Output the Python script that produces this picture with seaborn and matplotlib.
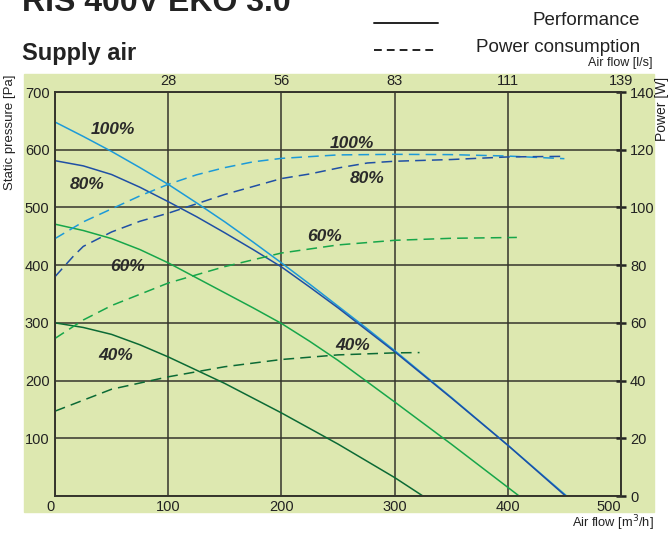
import seaborn as sns
import matplotlib.pyplot as plt
import pandas as pd
from matplotlib.patches import Rectangle
from matplotlib.lines import Line2D

sns.set_style("white")
plt.rcParams["font.family"] = ["Liberation Sans", "DejaVu Sans"]

# performance curves: static pressure [Pa] over air flow [m3/h]
flow_100 = [0, 25, 50, 75, 100, 125, 150, 175, 200, 225, 250, 275, 300, 350, 400, 452]
pa_100 = [648, 623, 597, 569, 540, 508, 475, 440, 404, 367, 329, 291, 252, 171, 88, 0]
flow_80 = [0, 25, 50, 75, 100, 125, 150, 175, 200, 225, 250, 300, 350, 400, 451]
pa_80 = [581, 572, 557, 535, 510, 484, 456, 427, 397, 362, 326, 250, 170, 88, 0]
flow_60 = [0, 25, 50, 75, 100, 150, 175, 200, 225, 250, 300, 350, 400, 410]
pa_60 = [471, 460, 446, 427, 404, 352, 326, 299, 268, 235, 163, 90, 15, 0]
flow_40 = [0, 25, 50, 75, 100, 150, 200, 250, 300, 325]
pa_40 = [300, 292, 280, 262, 241, 195, 144, 90, 32, 0]

# power consumption curves: power [W] over air flow [m3/h]
pflow_100 = [0, 25, 50, 75, 100, 125, 150, 175, 200, 250, 300, 350, 400, 450]
watt_100 = [89.2, 95, 99.5, 104, 108, 111.3, 113.8, 115.8, 117, 118.2, 118.4, 118.3, 117.8, 116.9]
pflow_80 = [0, 16, 25, 50, 75, 100, 150, 200, 225, 252, 276, 300, 350, 400, 450]
watt_80 = [76, 83, 86.5, 91.5, 95.2, 98, 104.5, 110, 111.6, 113.8, 115.4, 116, 116.6, 117.5, 117.7]
pflow_60 = [0, 25, 50, 100, 150, 200, 250, 300, 350, 408]
watt_60 = [54.6, 61, 66, 73.8, 79.5, 84.2, 87, 88.6, 89.3, 89.6]
pflow_40 = [0, 50, 100, 150, 200, 250, 300, 322]
watt_40 = [29.4, 37, 41.3, 44.8, 47.3, 48.9, 49.6, 49.7]

speeds = ["100%", "80%", "60%", "40%"]
colors = ["#1c9ad8", "#1f4fa5", "#17a64a", "#0b6a35"]

# where the speed labels sit (left: performance, right: power), in Pa units
label_left = [(51, 635), (28, 540), (64, 398), (54, 244)]
label_right = [(262, 611), (276, 550), (238, 449), (263, 260)]

x_ticks = [0, 100, 200, 300, 400, 500]
ls_ticks = ["28", "56", "83", "111", "139"]
pa_ticks = [0, 100, 200, 300, 400, 500, 600, 700]
w_ticks = [0, 20, 40, 60, 80, 100, 120, 140]

W, H = 669, 533
bg = "#dde8b0"
grid_c = "#35352c"
txt_c = "#222222"

fig = plt.figure(figsize=(W / 100, H / 100), dpi=100)
fig.add_artist(Rectangle((24 / W, 1 - 512 / H), (654 - 24) / W, (512 - 74) / H,
                         transform=fig.transFigure, color=bg, zorder=-5))

ax = fig.add_axes([55 / W, 1 - 496 / H, (621 - 55) / W, (496 - 92) / H])
ax.set_facecolor("none")
ax2 = ax.twinx()

perf = [(flow_100, pa_100), (flow_80, pa_80), (flow_60, pa_60), (flow_40, pa_40)]
power = [(pflow_100, watt_100), (pflow_80, watt_80), (pflow_60, watt_60), (pflow_40, watt_40)]

for (fx, fy), c in zip(perf, colors):
    df = pd.DataFrame({"flow": fx, "pa": fy})
    sns.lineplot(data=df, x="flow", y="pa", ax=ax, color=c, linewidth=1.1)

for (fx, fy), c in zip(power, colors):
    df = pd.DataFrame({"flow": fx, "w": fy})
    sns.lineplot(data=df, x="flow", y="w", ax=ax2, color=c, linewidth=1.1,
                 linestyle=(0, (7, 4)))

for (lx, ly), txt in zip(label_left + label_right, speeds + speeds):
    ax.text(lx, ly, txt, ha="center", va="center", fontsize=12.5,
            fontweight="bold", style="italic", color="#2a2a2a", zorder=5)

ax.set_xlim(0, 500)
ax.set_ylim(0, 700)
ax2.set_ylim(0, 140)
ax.set_xticks(x_ticks)
ax.set_xticklabels([str(v) for v in x_ticks])
ax.set_yticks(pa_ticks)
ax.set_yticklabels([""] + [str(v) for v in pa_ticks[1:]])
ax2.set_yticks(w_ticks)
ax2.set_yticklabels([str(v) for v in w_ticks])

# first and last bottom labels sit to the left of their grid line
xl = ax.get_xticklabels()
xl[0].set_horizontalalignment("right")
xl[-1].set_horizontalalignment("right")

ax.grid(True, color=grid_c, linewidth=1.1)
ax2.grid(False)
ax.set_xlabel("")
ax.set_ylabel("")
ax2.set_ylabel("")
ax.tick_params(axis="both", length=0, labelsize=10.5, colors=txt_c)
ax.tick_params(axis="x", pad=3)
ax.tick_params(axis="y", pad=4)
ax2.tick_params(axis="y", direction="inout", length=7, width=1.8, pad=3,
                labelsize=10.5, colors=txt_c)
for a in (ax, ax2):
    for s in a.spines.values():
        s.set_color(grid_c)
        s.set_linewidth(1.2)

top = ax.secondary_xaxis("top")
top.set_xticks(x_ticks[1:])
top.set_xticklabels(ls_ticks)
top.tick_params(length=0, pad=3, labelsize=10.5, colors=txt_c)
for s in top.spines.values():
    s.set_visible(False)

# headings and axis captions
fig.text(22 / W, 1 - 11 / H, "RIS 400V EKO 3.0", fontsize=23, fontweight="bold",
         va="baseline", color=txt_c)
fig.text(22 / W, 1 - 60 / H, "Supply air", fontsize=17, fontweight="bold",
         va="baseline", color=txt_c)
fig.text(640 / W, 1 - 25 / H, "Performance", fontsize=13.5, ha="right",
         va="baseline", color=txt_c)
fig.text(640 / W, 1 - 52 / H, "Power consumption", fontsize=13.5, ha="right",
         va="baseline", color=txt_c)
fig.add_artist(Line2D([374 / W, 438 / W], [1 - 22.5 / H] * 2, transform=fig.transFigure,
                      color=txt_c, linewidth=1.4))
fig.add_artist(Line2D([374 / W, 438 / W], [1 - 50 / H] * 2, transform=fig.transFigure,
                      color=txt_c, linewidth=1.4, linestyle=(0, (4, 2.6))))
fig.text(653 / W, 1 - 63 / H, "Air flow [l/s]", fontsize=9, ha="right",
         va="center", color=txt_c)
fig.text(654 / W, 1 - 523 / H, "Air flow [m$^3$/h]", fontsize=9.3, ha="right",
         va="center", color=txt_c)
fig.text(10 / W, 1 - 132 / H, "Static pressure [Pa]", fontsize=9.5, rotation=90,
         ha="center", va="center", color=txt_c)
fig.text(662 / W, 1 - 109 / H, "Power [W]", fontsize=10, rotation=90,
         ha="center", va="center", color=txt_c)

fig.savefig("out.png", dpi=100)
